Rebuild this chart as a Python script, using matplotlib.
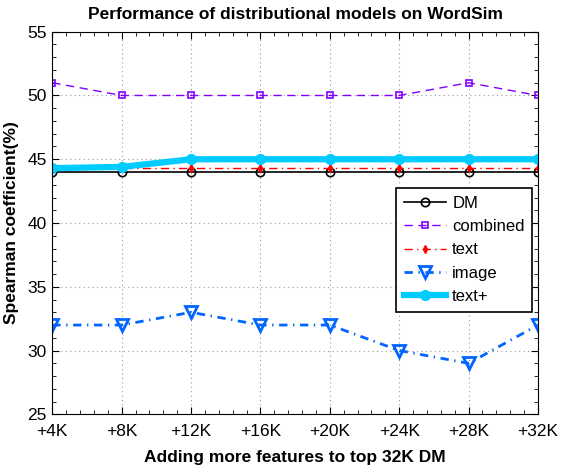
import matplotlib
matplotlib.use("Agg")
from matplotlib import pyplot as plt
from matplotlib.ticker import MultipleLocator

plt.rcParams['font.family'] = ['Liberation Sans', 'DejaVu Sans']

## Data ##
steps = ['+4K', '+8K', '+12K', '+16K', '+20K', '+24K', '+28K', '+32K']
dm = [44, 44, 44, 44, 44, 44, 44, 44]
combined = [51, 50, 50, 50, 50, 50, 51, 50]
text = [44.3, 44.3, 44.3, 44.3, 44.3, 44.3, 44.3, 44.3]
image = [32, 32, 33, 32, 32, 30, 29, 32]
text_plus = [44.3, 44.4, 45, 45, 45, 45, 45, 45]

x = list(range(len(steps)))

fig = plt.figure(figsize=(5.61, 4.65), dpi=100)
ax = fig.add_axes([0.0932, 0.109, 0.8658, 0.8228])

ax.plot(x, dm, color='black', linestyle='-', linewidth=1.2, marker='o',
        markersize=6, markerfacecolor='none', markeredgewidth=1.2, label='DM')
ax.plot(x, combined, color='#8000FF', linestyle=(0, (6, 4)), linewidth=1.0,
        marker='s', markersize=5, markerfacecolor='none', markeredgewidth=1.2,
        label='combined')
ax.plot(x, text, color='#FF0000', linestyle=(0, (6, 3, 1, 3)), linewidth=1.0,
        marker='d', markersize=4, markerfacecolor='#FF0000', label='text')
ax.plot(x, image, color='#0066FF', linestyle=(0, (3, 2, 0.5, 2)), linewidth=2.0,
        marker='v', markersize=8, markerfacecolor='none', markeredgewidth=2.0,
        label='image')
ax.plot(x, text_plus, color='#00CCFF', linestyle='-', linewidth=4.5,
        marker='o', markersize=7, markerfacecolor='#00CCFF',
        markeredgecolor='#00CCFF', label='text+')

ax.set_xlim(0, len(steps) - 1)
ax.set_ylim(25, 55)
ax.set_xticks(x)
ax.set_xticklabels(steps)
ax.yaxis.set_major_locator(MultipleLocator(5))
ax.yaxis.set_minor_locator(MultipleLocator(1))
ax.xaxis.set_minor_locator(MultipleLocator(0.2))
ax.tick_params(which='both', direction='in', top=True, right=True, labelsize=12.5)
ax.tick_params(axis='x', which='major', pad=7)
ax.tick_params(axis='y', which='major', pad=4)
ax.tick_params(which='major', length=5)
ax.tick_params(which='minor', length=3)
ax.grid(True, which='major', color='#999999', linestyle=(0, (1, 3)), linewidth=0.8)

ax.set_title('Performance of distributional models on WordSim',
             fontsize=12.5, fontweight='bold', pad=9)
ax.set_xlabel('Adding more features to top 32K DM', fontsize=12.5,
              fontweight='bold', labelpad=8)
ax.set_ylabel('Spearman coefficient(%)', fontsize=12.5, fontweight='bold',
              labelpad=6)

leg = ax.legend(loc='upper right', bbox_to_anchor=(0.988, 0.591), fontsize=12,
                fancybox=False, edgecolor='black', framealpha=1,
                handlelength=2.5, handletextpad=0.4, labelspacing=0.5,
                borderpad=0.45, borderaxespad=0)
leg.get_frame().set_linewidth(1.2)

plt.savefig('out.png', dpi=100)
plt.close()
